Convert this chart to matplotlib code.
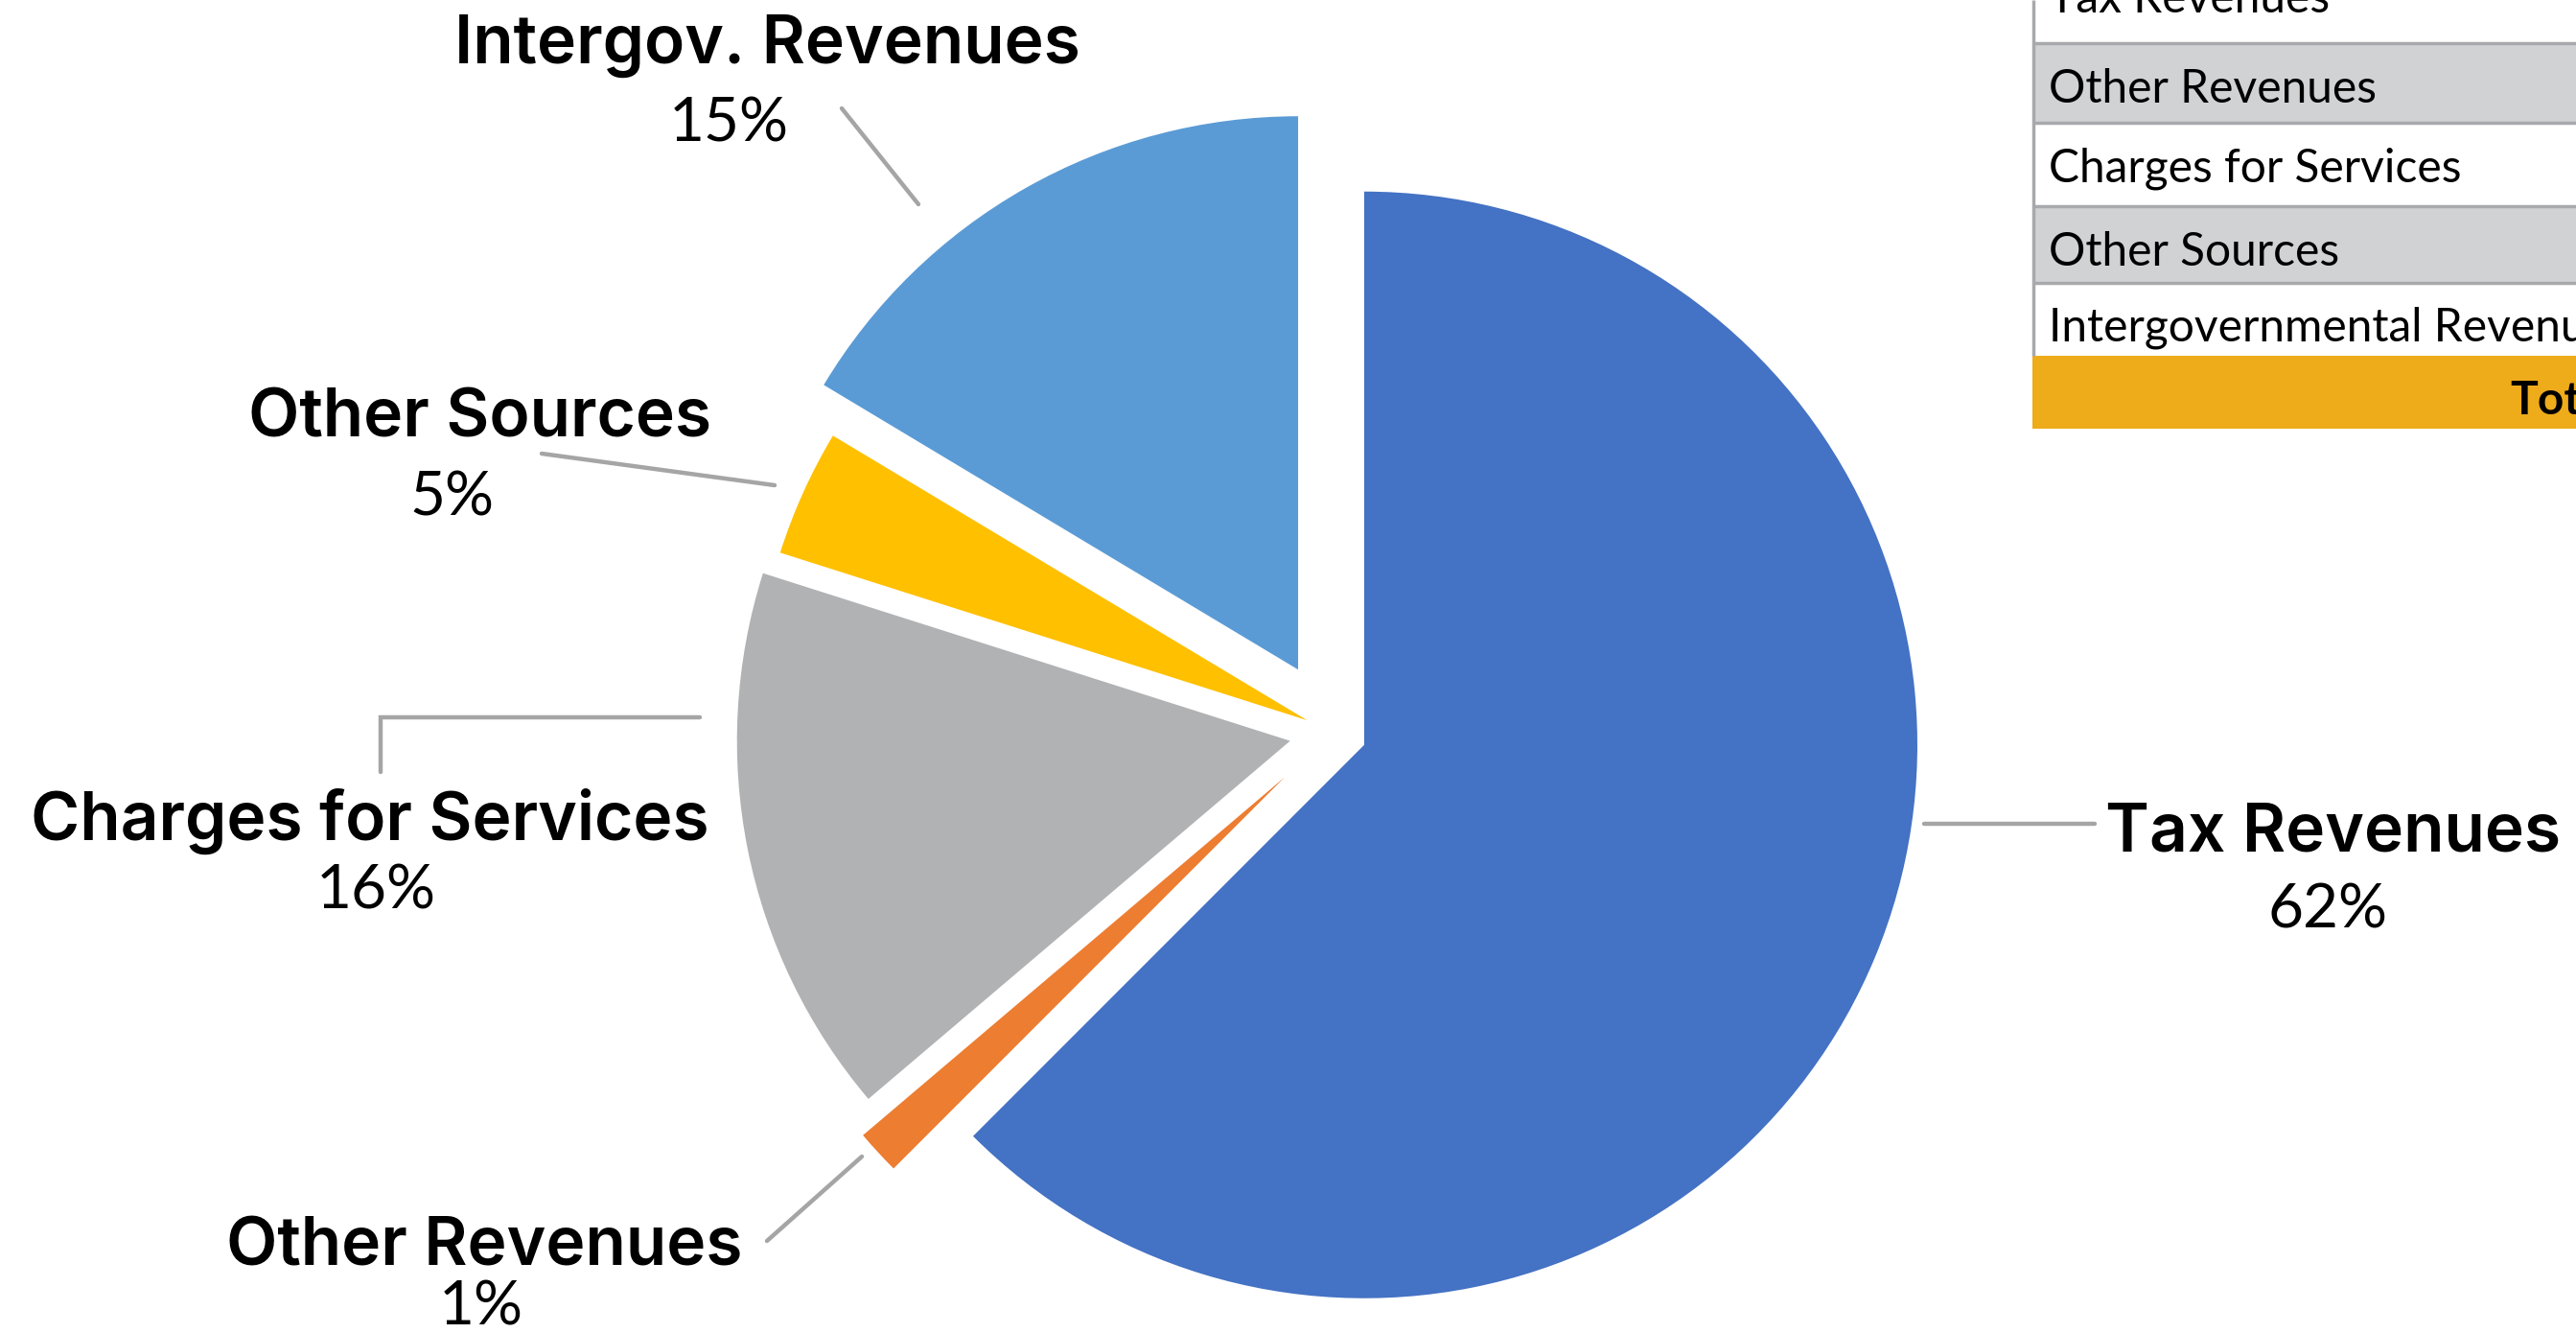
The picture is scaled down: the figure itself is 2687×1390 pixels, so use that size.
import matplotlib
matplotlib.use("Agg")
import matplotlib.pyplot as plt
from matplotlib.patches import Rectangle

W, H = 2687, 1390

# slices in drawing order (clockwise from 12 o'clock) -- same order as the table rows
categories = ["Tax Revenues", "Other Revenues", "Charges for Services",
              "Other Sources", "Intergovernmental Revenues"]
short_labels = ["Tax Revenues", "Other Revenues", "Charges for Services",
                "Other Sources", "Intergov. Revenues"]
shares = [62.5, 1.3, 16.1, 3.7, 16.4]
pct_labels = ["62%", "1%", "16%", "5%", "15%"]
colors = ["#4472C4", "#ED7D31", "#B1B2B4", "#FFC000", "#5B9BD5"]
explode_frac = [0.06, 0.12, 0.08, 0.052, 0.13]
total_label = "Total"

plt.rcParams["font.family"] = ["Lato", "DejaVu Sans"]

fig = plt.figure(figsize=(W / 100, H / 100), dpi=100)
ax = fig.add_axes([0, 0, 1, 1])

# pie drawn in pixel units, y axis flipped below (so start at -90 / ccw = 12 o'clock / cw on screen)
cx, cy, R = 1391, 763.5, 577
ax.pie(shares, colors=colors, explode=[e * R for e in explode_frac],
       center=(cx, cy), radius=R, startangle=-90, counterclock=True,
       wedgeprops=dict(linewidth=0))
ax.set_xlim(0, W)
ax.set_ylim(H, 0)
ax.set_aspect("auto")
ax.axis("off")

# data labels: name (centre x, baseline y), percent below, grey leader line
name_pos = [(2434, 887), (505, 1320), (386, 876), (501, 456), (800, 66)]
pct_pos = [(2428, 967), (502, 1382), (392, 947), (471, 538), (760, 148)]
leaders = [[(2007, 859), (2185, 859)],
           [(800, 1294), (899, 1206)],
           [(397, 805), (397, 748), (730, 748)],
           [(565, 473), (808, 506)],
           [(878, 113), (958, 213)]]

for name, pct, (nx, ny), (px, py), pts in zip(short_labels, pct_labels, name_pos, pct_pos, leaders):
    ax.text(nx, ny, name, ha="center", va="baseline", fontsize=50,
            fontweight="semibold", family=["Inter", "Lato", "DejaVu Sans"])
    ax.text(px, py, pct, ha="center", va="baseline", fontsize=46)
    xs, ys = zip(*pts)
    ax.plot(xs, ys, color="#A5A5A5", lw=3.2, solid_capstyle="round", solid_joinstyle="miter")

# summary table peeking in at the top right
tx = 2121
row_edges = [-40, 45, 128, 215, 295, 371]
row_fill = ["white", "#D1D2D4", "white", "#D1D2D4", "white"]
row_base = [13, 107, 189, 277, 356]
for i, name in enumerate(categories):
    top, bot = row_edges[i], row_edges[i + 1]
    ax.add_patch(Rectangle((tx, top), W - tx, bot - top, facecolor=row_fill[i], edgecolor="none"))
    ax.text(2137, row_base[i], name, ha="left", va="baseline", fontsize=34.5)
ax.hlines(row_edges[1:-1], tx, W, color="#A7A9AC", lw=2.5)
ax.vlines(tx, 0, row_edges[-1], color="#A7A9AC", lw=2.5)
ax.add_patch(Rectangle((tx - 1, 371), W - tx + 1, 76, facecolor="#EEAB1A", edgecolor="none"))
ax.text(2618, 432, total_label, ha="left", va="baseline", fontsize=34.5, fontweight="bold")

fig.savefig("out.png", dpi=100)
